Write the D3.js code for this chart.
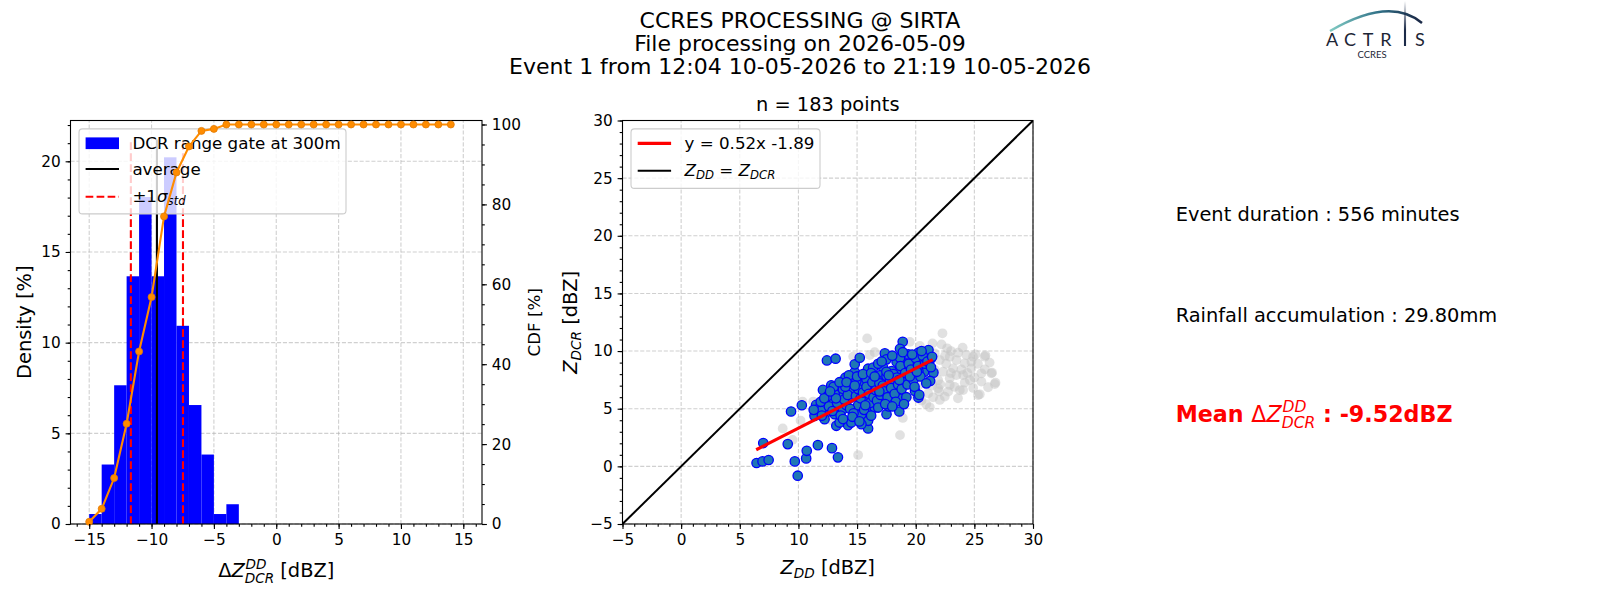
<!DOCTYPE html>
<html lang="en">
<head>
<meta charset="UTF-8">
<title>CCRES processing @ SIRTA</title>
<style>
	*{margin:0;padding:0;}
	body{background:#fff;}
	svg text{white-space:pre;}
</style>
</head>
<body>
<div id="container"></div>
<script src="https://cdnjs.cloudflare.com/ajax/libs/d3/7.8.5/d3.min.js"></script>
<script>
// ---------- values ----------
var titleLines = ['CCRES PROCESSING @ SIRTA', 'File processing on 2026-05-09', 'Event 1 from 12:04 10-05-2026 to 21:19 10-05-2026']

// histogram of delta Z (1 dBZ bins) in % density
var histBinStart = [-15, -14, -13, -12, -11, -10, -9, -8, -7, -6, -5, -4]
var histBinWidth = 1
var histDensity = [0.55, 3.28, 7.65, 13.66, 18.03, 13.66, 20.22, 10.93, 6.56, 3.83, 0.55, 1.09]

// cumulative distribution (%)
var cdfX = [-15, -14, -13, -12, -11, -10, -9, -8, -7, -6, -5, -4, -3, -2, -1, 0, 1, 2, 3, 4, 5, 6, 7, 8, 9, 10, 11, 12, 13, 14]
var cdfPct = [0.55, 3.8, 11.5, 25.1, 43.2, 56.8, 77.0, 88.0, 94.5, 98.4, 98.9, 100, 100, 100, 100, 100, 100, 100, 100, 100, 100, 100, 100, 100, 100, 100, 100, 100, 100, 100]

var avgLine = -9.57
var stdLines = [-11.66, -7.48]
var vlineTop = 21.2

var histXTicks = [-15, -10, -5, 0, 5, 10, 15]
var densityTicks = [0, 5, 10, 15, 20]
var cdfTicks = [0, 20, 40, 60, 80, 100]
var scatTicks = [-5, 0, 5, 10, 15, 20, 25, 30]

// scatter: Z_DD (x) vs Z_DCR (y), dBZ
var fitSlope = 0.52, fitIntercept = -1.89
var fitX = [6.4, 21.45]
var bluePts = [
 [12.43,9.19],[13.17,9.34],[6.43,0.29],[6.94,0.43],[7.46,0.55],[7.0,2.02],[9.09,1.93],[9.69,0.43],[9.94,-0.81],[10.66,0.69],
 [10.71,1.35],[11.66,1.84],[12.86,1.58],[13.37,0.78],[9.37,4.76],[10.29,5.3],[11.51,5.33],[11.66,4.96],[12.09,6.63],[12.8,7.03],
 [12.37,4.67],[12.23,4.09],[13.09,4.52],[13.23,3.52],[14.23,3.57],[13.8,4.96],[14.0,7.69],[14.8,8.18],[14.8,8.85],[15.23,9.42],
 [15.94,8.47],[16.37,8.56],[17.37,9.8],[17.23,8.56],[16.94,7.9],[15.94,3.29],[15.94,3.95],[15.94,5.01],[15.37,3.66],[17.51,4.52],
 [18.6,4.76],[18.66,5.88],[18.89,10.81],[18.66,10.2],[19.37,9.71],[20.23,9.86],[21.09,10.09],[21.29,9.34],[21.51,8.13],[21.23,7.41],
 [20.71,8.18],[19.94,6.54],[20.23,5.97],[19.23,7.84],[19.66,7.69],[13.8,6.69],[14.66,6.46],[15.23,7.32],[16.23,6.92],[16.94,6.83],
 [17.74,6.69],[18.37,6.63],[17.17,5.82],[16.51,5.1],[15.09,5.3],[14.09,5.3],[13.51,5.97],[13.09,6.25],[13.51,3.8],[14.51,3.8],
 [15.37,4.52],[15.8,5.59],[17.71,5.19],[18.09,7.55],[18.66,8.41],[18.37,9.05],[19.09,8.85],[19.94,8.99],[20.51,9.28],[16.66,7.55],
 [17.51,7.84],[15.8,7.55],[11.37,4.38],[11.94,4.81],[12.8,5.68],[14.51,5.97],[16.37,6.17],[17.94,8.27],[19.37,8.27],[20.23,8.27],
 [14.94,7.41],[17.51,9.28],[18.66,9.42],
 [12.6,5.2],[12.9,4.8],[13.3,5.5],[13.6,4.4],[13.9,5.8],[14.2,6.2],[14.4,5.0],[14.7,4.6],[14.9,6.1],[15.1,6.7],
 [15.3,5.9],[15.5,6.4],[15.6,4.9],[15.8,6.9],[16.0,6.3],[16.1,5.5],[16.3,7.3],[16.4,6.0],[16.6,6.6],[16.7,5.7],
 [16.9,7.2],[17.0,6.2],[17.2,7.0],[17.3,6.5],[17.5,8.2],[17.6,6.0],[17.8,7.4],[17.9,6.8],[18.1,8.0],[18.2,6.3],
 [18.4,7.7],[18.5,7.1],[18.7,8.7],[18.8,6.7],[19.0,7.6],[19.1,8.1],[19.3,7.1],[19.4,8.9],[19.6,8.4],[19.8,7.5],
 [20.0,9.4],[20.2,8.7],[20.4,7.8],[20.6,9.6],[20.8,8.9],[21.0,9.1],[21.3,8.6],[14.0,6.9],[13.0,6.9],[12.5,6.1],
 [13.5,7.3],[14.3,7.9],[15.0,7.8],[15.5,8.0],[16.2,8.1],[16.8,8.9],[17.1,9.1],[18.0,9.6],[18.9,9.9],[19.7,9.7],
 [20.5,10.0],[11.9,5.6],[12.2,5.9],[11.3,4.9],[12.0,4.4],[13.8,4.1],[14.6,4.3],[15.2,3.9],[16.2,4.4],[16.8,5.1],
 [17.4,5.4],[18.3,5.6],[19.2,6.0],[19.9,6.9],[20.9,7.2],[21.4,9.5],[14.1,7.3],[14.8,7.0],[16.5,7.8],[17.7,7.9],
 [18.6,7.5],[19.5,7.8],[20.1,8.2],[15.7,5.3],[13.2,5.9],[12.7,6.5],[16.9,6.5],[18.0,5.2],[19.0,5.4],[20.3,6.2]
]
var grayPts = [
 [15.86,11.1],[22.28,11.54],[21.43,10.67],[22.2,10.58],[22.68,10.24],[23.61,9.86],[22.9,9.51],[23.47,9.22],[24.18,8.94],[24.89,9.51],
 [25.89,9.51],[24.75,8.5],[25.89,8.42],[26.45,8.07],[25.6,7.35],[26.74,7.14],[26.17,6.86],[25.32,6.19],[23.76,6.62],[24.18,7.26],
 [22.9,7.64],[22.33,8.21],[21.91,6.77],[22.48,6.05],[21.48,5.99],[21.2,5.12],[20.49,5.7],[22.76,6.48],[23.47,7.92],[23.19,8.5],
 [24.04,7.92],[24.61,7.49],[22.05,9.22],[21.62,9.8],[20.35,10.44],[21.2,9.95],[24.75,9.08],[24.32,9.66],[25.6,8.07],[16.08,9.66],
 [19.5,10.8],[21.91,7.49],[22.9,7.06],[24.04,6.62],[22.05,5.76],[21.06,6.33],[18.66,2.71],[15.09,0.98],[8.66,3.29],[25.09,9.71],
 [25.94,9.63],[26.51,8.13],[26.8,7.26],[25.46,6.25],[10.18,3.97],[10.35,5.62],[11.26,5.62],[14.67,9.52],
 [20.8,7.6],[21.6,8.4],[22.6,8.9],[23.0,10.0],[23.9,8.4],[24.4,8.1],[23.3,6.9],[22.1,7.1],[21.0,8.8],[20.2,7.0],
 [19.8,6.2],[20.9,5.4],[23.6,5.9],[24.9,6.8],[25.3,8.9],[24.0,10.3],[22.5,9.6],[21.4,7.0],[23.0,8.1],[22.0,6.5],
 [18.9,4.2],[17.8,5.8],[19.5,9.2],[16.5,9.9],[12.8,4.0],[9.5,2.3],[26.3,9.0],[25.0,7.7]
]

var infoLines = ['Event duration : 556 minutes', 'Rainfall accumulation : 29.80mm']
var meanText = ' : -9.52dBZ'
var nTitle = 'n = 183 points'

// ---------- helpers ----------
var FONT = 'DejaVu Sans'
var svg = d3.select('#container').append('svg')
	.attr('width', 1600).attr('height', 600)
	.style('font-family', FONT)

// mathtext-like label: parts are {t, it, w} or {sup, sub}
function mathText(txt, parts, fs) {
	var off = 0, pending = 0
	parts.forEach(function(p) {
		if (p.sup != null || p.sub != null) {
			var sfs = fs * 0.7, supLen = 0, subLen = 0
			var both = p.sup != null && p.sub != null
			if (p.sup != null) {
				var up = -0.42 * fs
				var t1 = txt.append('tspan').attr('font-size', sfs).attr('font-style', 'italic')
					.attr('font-weight', 'normal').attr('dy', up - off).attr('dx', 0.04 * fs).text(p.sup)
				off = up
				supLen = t1.node().getComputedTextLength() + 0.04 * fs
			}
			if (p.sub != null) {
				var down = both ? 0.3 * fs : 0.22 * fs
				var t2 = txt.append('tspan').attr('font-size', sfs).attr('font-style', 'italic')
					.attr('font-weight', 'normal').attr('dy', down - off).attr('dx', -supLen).text(p.sub)
				off = down
				subLen = t2.node().getComputedTextLength()
			}
			pending = Math.max(supLen, subLen) - subLen
		} else {
			var t = txt.append('tspan').attr('dy', -off).text(p.t)
			if (pending) t.attr('dx', pending)
			if (p.it) t.attr('font-style', 'italic')
			if (p.w) t.attr('font-weight', p.w)
			off = 0; pending = 0
		}
	})
	return txt
}

function styleAxis(g) {
	g.attr('font-family', FONT).attr('font-size', 15.3)
	g.select('.domain').remove()
	g.selectAll('line').attr('stroke', '#000').attr('stroke-width', 1.1)
	g.selectAll('text').attr('fill', '#000')
	return g
}

function grid(g, xs, ys, xScale, yScale) {
	var x0 = xScale.range()[0], x1 = xScale.range()[1]
	var y0 = yScale.range()[0], y1 = yScale.range()[1]
	g.selectAll('.gx').data(xs).enter().append('line')
		.attr('x1', function(d){return xScale(d)}).attr('x2', function(d){return xScale(d)})
		.attr('y1', y0).attr('y2', y1)
	g.selectAll('.gy').data(ys).enter().append('line')
		.attr('y1', function(d){return yScale(d)}).attr('y2', function(d){return yScale(d)})
		.attr('x1', x0).attr('x2', x1)
	g.selectAll('line').attr('stroke', '#b0b0b0').attr('stroke-opacity', 0.6)
		.attr('stroke-width', 1.1).attr('stroke-dasharray', '4.1,1.8')
}

// ---------- title ----------
svg.append('text').attr('x', 800).attr('y', 27.7).attr('text-anchor', 'middle')
	.attr('font-size', 22).selectAll('tspan').data(titleLines).enter().append('tspan')
	.attr('x', 800).attr('dy', function(d, i){return i ? 23 : 0}).text(function(d){return d})

// ---------- left panel: histogram + CDF ----------
var hx = d3.scaleLinear().domain([-16.5, 16.5]).range([70.5, 482])
var hy = d3.scaleLinear().domain([0, 22.25]).range([524, 120.5])
var cy = d3.scaleLinear().domain([0, 101]).range([524, 120.5])

var gl = svg.append('g')
grid(gl.append('g'), histXTicks, densityTicks, hx, hy)

gl.append('g').selectAll('rect').data(histDensity).enter().append('rect')
	.attr('x', function(d, i){return hx(histBinStart[i])})
	.attr('width', function(d, i){return hx(histBinStart[i] + histBinWidth) - hx(histBinStart[i])})
	.attr('y', function(d){return hy(d)})
	.attr('height', function(d){return hy(0) - hy(d)})
	.attr('fill', '#0000ff')

gl.append('line').attr('x1', hx(avgLine)).attr('x2', hx(avgLine))
	.attr('y1', hy(0)).attr('y2', hy(vlineTop)).attr('stroke', '#000').attr('stroke-width', 2.1)
gl.selectAll('.std').data(stdLines).enter().append('line')
	.attr('x1', function(d){return hx(d)}).attr('x2', function(d){return hx(d)})
	.attr('y1', hy(0)).attr('y2', hy(vlineTop))
	.attr('stroke', '#ff0000').attr('stroke-width', 2.1).attr('stroke-dasharray', '7.7,3.3')

// legend (left)
var lg = gl.append('g')
lg.append('rect').attr('x', 79).attr('y', 128.9).attr('width', 267).attr('height', 85)
	.attr('rx', 3.5).attr('fill', '#fff').attr('fill-opacity', 0.8).attr('stroke', '#cccccc').attr('stroke-width', 1.1)
lg.append('rect').attr('x', 85.6).attr('y', 137.4).attr('width', 33.4).attr('height', 11.7).attr('fill', '#0000ff')
lg.append('line').attr('x1', 85.6).attr('x2', 119).attr('y1', 169).attr('y2', 169)
	.attr('stroke', '#000').attr('stroke-width', 2.1)
lg.append('line').attr('x1', 85.6).attr('x2', 119).attr('y1', 196.7).attr('y2', 196.7)
	.attr('stroke', '#ff0000').attr('stroke-width', 2.1).attr('stroke-dasharray', '7.7,3.3')
lg.append('text').attr('x', 132.4).attr('y', 149.3).attr('font-size', 16.7).text('DCR range gate at 300m')
lg.append('text').attr('x', 132.4).attr('y', 175).attr('font-size', 16.7).text('average')
mathText(lg.append('text').attr('x', 132.4).attr('y', 201.5).attr('font-size', 16.7),
	[{t: '±1'}, {t: 'σ', it: true}, {sub: 'std'}], 16.7)

// spines
gl.append('rect').attr('x', 70.5).attr('y', 120.5).attr('width', 411.5).attr('height', 403.5)
	.attr('fill', 'none').attr('stroke', '#000').attr('stroke-width', 1.1)

// CDF on twin axis
var cdfLine = d3.line().x(function(d, i){return hx(cdfX[i])}).y(function(d){return cy(d)})
gl.append('path').attr('d', cdfLine(cdfPct)).attr('fill', 'none')
	.attr('stroke', '#ff8c00').attr('stroke-width', 2.1)
gl.append('g').selectAll('circle').data(cdfPct).enter().append('circle')
	.attr('cx', function(d, i){return hx(cdfX[i])}).attr('cy', function(d){return cy(d)})
	.attr('r', 3.5).attr('fill', '#ff8c00').attr('stroke', '#e07b06').attr('stroke-width', 0.8)

// axes
styleAxis(gl.append('g').attr('transform', 'translate(0,524)')
	.call(d3.axisBottom(hx).tickValues(d3.range(-16, 17)).tickSize(2.8).tickFormat('')))
styleAxis(gl.append('g').attr('transform', 'translate(0,524)')
	.call(d3.axisBottom(hx).tickValues(histXTicks).tickSize(4.9).tickPadding(4.9)))
styleAxis(gl.append('g').attr('transform', 'translate(70.5,0)')
	.call(d3.axisLeft(hy).tickValues(d3.range(0, 23)).tickSize(2.8).tickFormat('')))
styleAxis(gl.append('g').attr('transform', 'translate(70.5,0)')
	.call(d3.axisLeft(hy).tickValues(densityTicks).tickSize(4.9).tickPadding(4.9)))
styleAxis(gl.append('g').attr('transform', 'translate(482,0)')
	.call(d3.axisRight(cy).tickValues(d3.range(0, 101, 5)).tickSize(2.8).tickFormat('')))
styleAxis(gl.append('g').attr('transform', 'translate(482,0)')
	.call(d3.axisRight(cy).tickValues(cdfTicks).tickSize(4.9).tickPadding(4.9)))

mathText(gl.append('text').attr('x', 276.25).attr('y', 577).attr('text-anchor', 'middle').attr('font-size', 19.4),
	[{t: 'Δ'}, {t: 'Z', it: true}, {sup: 'DD', sub: 'DCR'}, {t: ' [dBZ]'}], 19.4)
gl.append('text').attr('transform', 'translate(31,322.25) rotate(-90)').attr('text-anchor', 'middle')
	.attr('font-size', 19.4).text('Density [%]')
gl.append('text').attr('transform', 'translate(540,322.25) rotate(-90)').attr('text-anchor', 'middle')
	.attr('font-size', 16.7).text('CDF [%]')

// ---------- middle panel: scatter ----------
var sx = d3.scaleLinear().domain([-5, 30]).range([622.5, 1033])
var sy = d3.scaleLinear().domain([-5, 30]).range([524, 120.5])
var gs = svg.append('g')
svg.append('clipPath').attr('id', 'clipS').append('rect')
	.attr('x', 622.5).attr('y', 120.5).attr('width', 410.5).attr('height', 403.5)
grid(gs.append('g'), scatTicks, scatTicks, sx, sy)

var pts = gs.append('g').attr('clip-path', 'url(#clipS)')
pts.selectAll('.gp').data(grayPts).enter().append('circle')
	.attr('cx', function(d){return sx(d[0])}).attr('cy', function(d){return sy(d[1])})
	.attr('r', 4.9).attr('fill', '#c4c4c4').attr('fill-opacity', 0.5)
pts.selectAll('.bp').data(bluePts).enter().append('circle')
	.attr('cx', function(d){return sx(d[0])}).attr('cy', function(d){return sy(d[1])})
	.attr('r', 4.7).attr('fill', '#1f77b4').attr('stroke', '#0000ff').attr('stroke-width', 1.3)
pts.append('line').attr('x1', sx(-5)).attr('y1', sy(-5)).attr('x2', sx(30)).attr('y2', sy(30))
	.attr('stroke', '#000').attr('stroke-width', 2)
pts.append('line')
	.attr('x1', sx(fitX[0])).attr('y1', sy(fitSlope * fitX[0] + fitIntercept))
	.attr('x2', sx(fitX[1])).attr('y2', sy(fitSlope * fitX[1] + fitIntercept))
	.attr('stroke', '#ff0000').attr('stroke-width', 3.2)

// legend (scatter)
var ls = gs.append('g')
ls.append('rect').attr('x', 631).attr('y', 128.9).attr('width', 189).attr('height', 59.5)
	.attr('rx', 3.5).attr('fill', '#fff').attr('fill-opacity', 0.8).attr('stroke', '#cccccc').attr('stroke-width', 1.1)
ls.append('line').attr('x1', 637.7).attr('x2', 671.1).attr('y1', 143.3).attr('y2', 143.3)
	.attr('stroke', '#ff0000').attr('stroke-width', 3.2)
ls.append('line').attr('x1', 637.7).attr('x2', 671.1).attr('y1', 170.7).attr('y2', 170.7)
	.attr('stroke', '#000').attr('stroke-width', 2)
ls.append('text').attr('x', 684.5).attr('y', 149.3).attr('font-size', 16.7)
	.text('y = ' + fitSlope.toFixed(2) + 'x ' + fitIntercept.toFixed(2))
mathText(ls.append('text').attr('x', 684.5).attr('y', 175.5).attr('font-size', 16.7),
	[{t: 'Z', it: true}, {sub: 'DD'}, {t: ' = '}, {t: 'Z', it: true}, {sub: 'DCR'}], 16.7)

gs.append('rect').attr('x', 622.5).attr('y', 120.5).attr('width', 410.5).attr('height', 403.5)
	.attr('fill', 'none').attr('stroke', '#000').attr('stroke-width', 1.1)

styleAxis(gs.append('g').attr('transform', 'translate(0,524)')
	.call(d3.axisBottom(sx).tickValues(d3.range(-5, 31)).tickSize(2.8).tickFormat('')))
styleAxis(gs.append('g').attr('transform', 'translate(0,524)')
	.call(d3.axisBottom(sx).tickValues(scatTicks).tickSize(4.9).tickPadding(4.9)))
styleAxis(gs.append('g').attr('transform', 'translate(622.5,0)')
	.call(d3.axisLeft(sy).tickValues(d3.range(-5, 31)).tickSize(2.8).tickFormat('')))
styleAxis(gs.append('g').attr('transform', 'translate(622.5,0)')
	.call(d3.axisLeft(sy).tickValues(scatTicks).tickSize(4.9).tickPadding(4.9)))

gs.append('text').attr('x', 827.75).attr('y', 110.7).attr('text-anchor', 'middle')
	.attr('font-size', 19.4).text(nTitle)
mathText(gs.append('text').attr('x', 827.75).attr('y', 574).attr('text-anchor', 'middle').attr('font-size', 19.4),
	[{t: 'Z', it: true}, {sub: 'DD'}, {t: ' [dBZ]'}], 19.4)
mathText(gs.append('text').attr('transform', 'translate(577,322.25) rotate(-90)').attr('text-anchor', 'middle')
	.attr('font-size', 19.4), [{t: 'Z', it: true}, {sub: 'DCR'}, {t: ' [dBZ]'}], 19.4)

// ---------- right: event info ----------
svg.append('text').attr('x', 1175.7).attr('y', 221).attr('font-size', 19.4).text(infoLines[0])
svg.append('text').attr('x', 1175.7).attr('y', 322.3).attr('font-size', 19.4).text(infoLines[1])
mathText(svg.append('text').attr('x', 1175.7).attr('y', 421.7).attr('font-size', 22.2).attr('fill', '#ff0000'),
	[{t: 'Mean ', w: 'bold'}, {t: 'Δ', w: 'normal'}, {t: 'Z', it: true, w: 'normal'}, {sup: 'DD', sub: 'DCR'}, {t: meanText, w: 'bold'}], 22.2)

// ---------- ACTRIS logo ----------
var defs = svg.append('defs')
var ag = defs.append('linearGradient').attr('id', 'arcGrad').attr('gradientUnits', 'userSpaceOnUse')
	.attr('x1', 1333).attr('x2', 1418).attr('y1', 0).attr('y2', 0)
ag.append('stop').attr('offset', 0).attr('stop-color', '#7cc6c0')
ag.append('stop').attr('offset', 0.55).attr('stop-color', '#2f6f86')
ag.append('stop').attr('offset', 1).attr('stop-color', '#1b2a48')
var vg = defs.append('linearGradient').attr('id', 'barGrad').attr('gradientUnits', 'userSpaceOnUse')
	.attr('x1', 0).attr('x2', 0).attr('y1', 1).attr('y2', 30)
vg.append('stop').attr('offset', 0).attr('stop-color', '#1b2a48').attr('stop-opacity', 0)
vg.append('stop').attr('offset', 1).attr('stop-color', '#1b2a48').attr('stop-opacity', 1)

var logo = svg.append('g')
logo.append('path').attr('d', 'M1330,31 Q1390,-4 1422,23').attr('fill', 'none')
	.attr('stroke', 'url(#arcGrad)').attr('stroke-width', 2.4)
logo.append('line').attr('x1', 1405).attr('x2', 1405).attr('y1', 1).attr('y2', 46)
	.attr('stroke', 'url(#barGrad)').attr('stroke-width', 2.1)
var letters = [['A', 1332], ['C', 1350], ['T', 1368], ['R', 1386], ['S', 1420]]
logo.selectAll('.lt').data(letters).enter().append('text')
	.attr('x', function(d){return d[1]}).attr('y', 46).attr('text-anchor', 'middle')
	.attr('font-family', 'Lato').attr('font-size', 18).attr('fill', '#1c2535')
	.text(function(d){return d[0]})
logo.append('text').attr('x', 1372).attr('y', 58).attr('text-anchor', 'middle')
	.attr('font-family', 'Lato').attr('font-size', 9.5).attr('fill', '#1c2535').text('CCRES')
</script>
</body>
</html>
